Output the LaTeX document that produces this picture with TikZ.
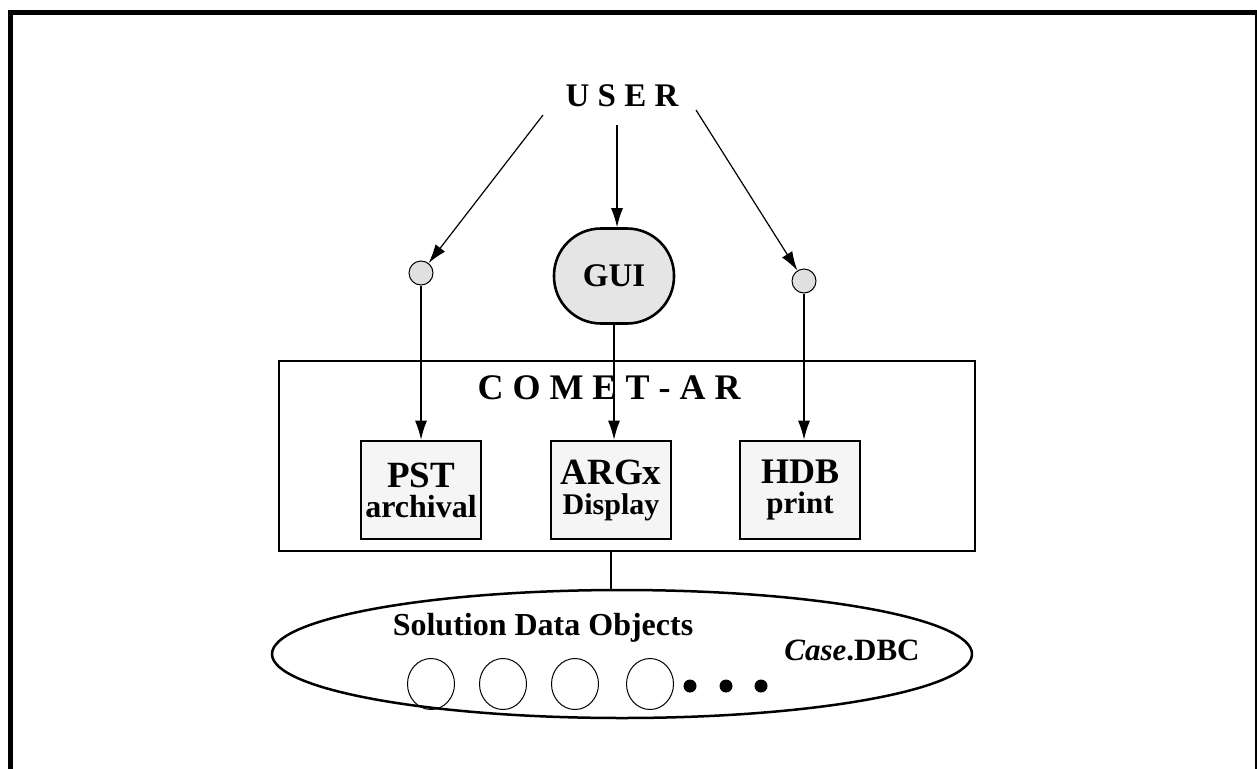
\documentclass[tikz,border=0pt]{standalone}
\usepackage{fontspec}
\setmainfont{Liberation Serif}
\usetikzlibrary{arrows.meta, shapes.geometric}

\newcommand{\bsz}[2]{\fontsize{#1}{#2}\selectfont\bfseries}

\begin{document}
\begin{tikzpicture}[x=1pt, y=-1pt, >={Latex[length=19pt,width=12pt]},
 line width=1.2pt,
 modbox/.style={draw, line width=2.6pt, fill=black!4, minimum width=120pt,
   minimum height=98pt, inner sep=0pt, align=center, font=\bsz{32}{30}},
 port/.style={draw, circle, line width=1pt, fill=black!12, minimum size=24pt, inner sep=0pt},
 obj/.style={draw, ellipse, line width=1pt, minimum width=47pt, minimum height=51pt, inner sep=0pt},
 blob/.style={circle, fill, minimum size=13pt, inner sep=0pt}]

  \useasboundingbox (0,0) rectangle (1257,768);
  \draw[line width=5pt] (10.5,800) |- (1257.5,12.5) -- (1257.5,800);

  \node[font=\bsz{33}{33}] (user) at (622,96) {U S E R};
  \node[draw, line width=2.6pt, fill=black!10, rounded corners=47pt, minimum width=120pt,
    minimum height=95pt, font=\bsz{33}{33}] (gui) at (614,276) {GUI};
  \node[port] (lport) at (421,273) {};
  \node[port] (rport) at (804,281) {};

  \node[draw, line width=2.6pt, minimum width=696pt, minimum height=190pt] (comet) at (627,456) {};
  \node[font=\bsz{36}{36}] (cometname) at (609,388) {C O M E T - A R};
  \node[modbox] (pst) at (421,490) {\fontsize{37}{30}\selectfont PST\\\fontsize{32}{30}\selectfont archival};
  \node[modbox] (argx) at (611,490) {\fontsize{37}{30}\selectfont ARGx\\\fontsize{30}{30}\selectfont Display};
  \node[modbox] (hdb) at (800,490) {\fontsize{36}{28}\selectfont HDB\\\fontsize{31}{28}\selectfont print};

  \node[draw, ellipse, line width=2.5pt, minimum width=700pt, minimum height=128pt,
    inner sep=0pt] (db) at (622,654) {};
  \node[font=\bsz{32}{32}] (sdo) at (543,628) {Solution Data Objects};
  \node[font=\bsz{31}{31}] (dbname) at (852,650) {\textit{Case}.DBC};
  \foreach \x [count=\i] in {431,503,575,650}
    \node[obj] (o\i) at (\x,684) {};
  \foreach \x [count=\i] in {690,726,761}
    \node[blob] (d\i) at (\x,686) {};

  \coordinate (uleft) at (543,115);
  \coordinate (umid) at (617,125);
  \coordinate (uright) at (696,110);

  \path[->]
    (uleft) edge (lport)
    (umid) edge (umid |- gui.north)
    (uright) edge (rport)
    (lport) edge (pst)
    (gui.south) edge (gui.south |- argx.north)
    (rport) edge (rport |- hdb.north);
  \draw (comet.south -| argx) -- (db.north -| argx);
\end{tikzpicture}
\end{document}
